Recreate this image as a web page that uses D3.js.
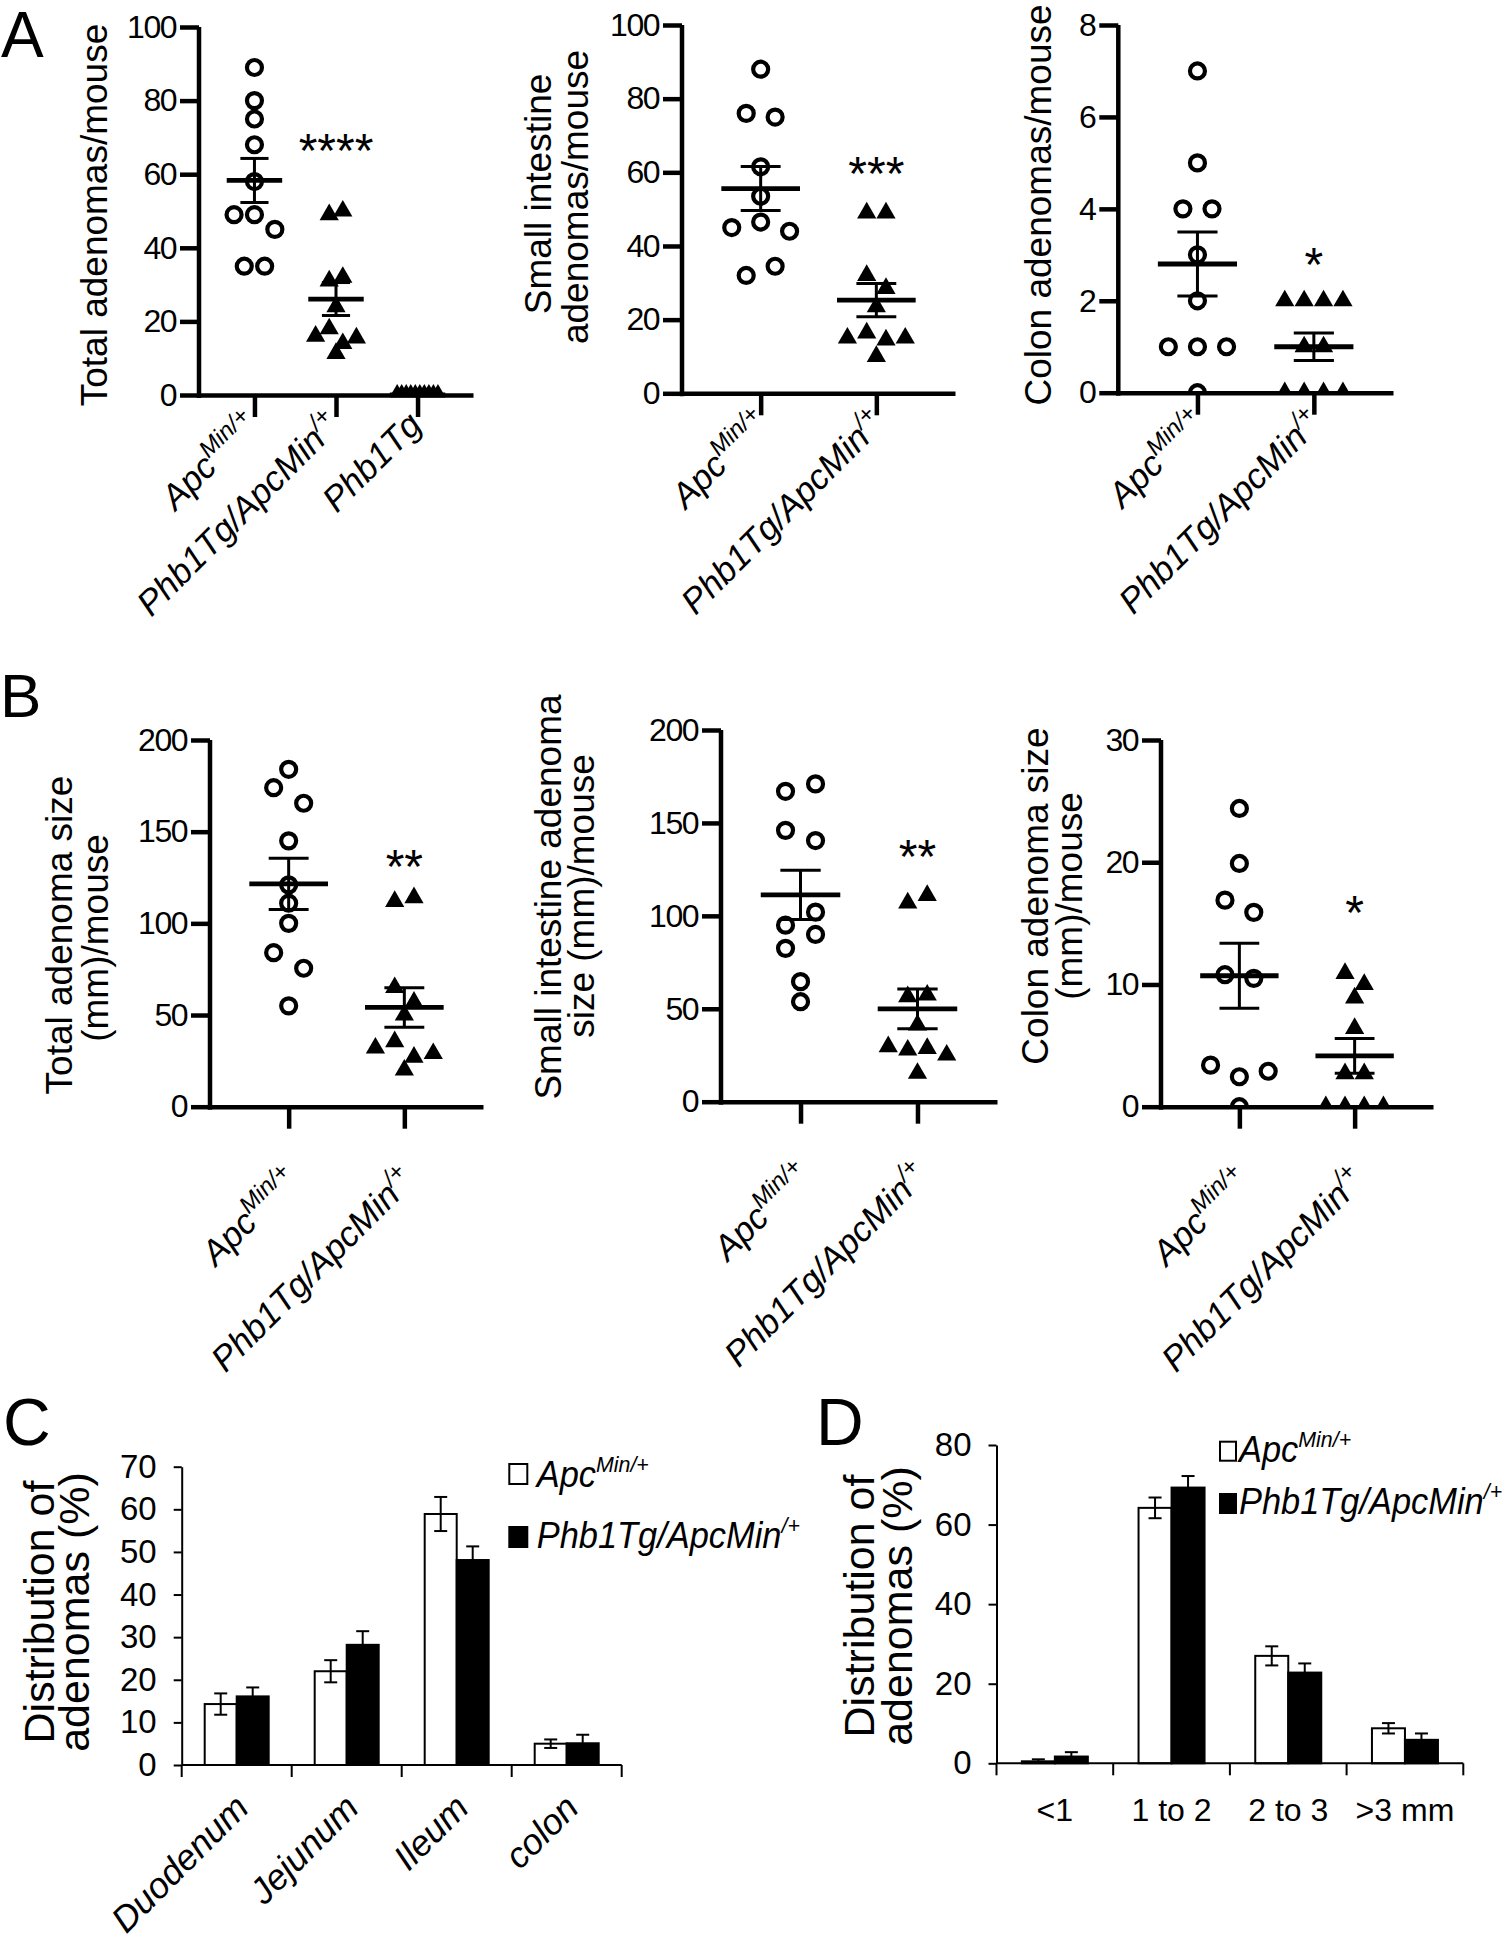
<!DOCTYPE html>
<html><head><meta charset="utf-8">
<script src="https://cdn.jsdelivr.net/npm/d3@7"></script>
<style>
body{margin:0;background:#fff;}
svg text{font-family:"Liberation Sans",Arial,Helvetica,sans-serif;fill:#000;}
</style></head><body>
<svg id="fig" width="1506" height="1950" xmlns="http://www.w3.org/2000/svg"></svg>
<script>
// ---------------- DATA ----------------
// Group labels (base text + superscript)
const groupBase = ["Apc", "Phb1Tg/ApcMin", "Phb1Tg"];
const groupSup  = ["Min/+", "/+", ""];

// Panel A: adenoma counts per mouse
const totalApc    = [89, 80, 75, 68, 58, 49, 49, 45, 35, 35];
const totalTgApc  = [49, 50, 31, 32, 24, 16, 18, 14, 15.5, 11.3];
const totalTg     = [0, 0, 0, 0, 0, 0, 0, 0, 0, 0];
const siApc       = [88, 76, 75, 61.5, 53.5, 45, 46.5, 44, 32, 34.5];
const siTgApc     = [49, 49, 32, 28.5, 23.5, 15, 16.4, 14.5, 15, 10];
const colonApc    = [7, 5, 4, 4, 3, 2, 1, 1, 1, 0];
const colonTgApc  = [2, 2, 2, 2, 1, 1, 0, 0, 0, 0];

// Panel B: adenoma size (mm) per mouse
const sizeTotalApc   = [184, 174, 165.5, 145, 121, 111, 100, 84, 75.5, 55];
const sizeTotalTgApc = [112, 114, 65, 57, 50, 32, 35.5, 27, 29, 20];
const sizeSiApc      = [167, 171, 146, 140.5, 95, 102, 82.5, 90, 64.6, 53.8];
const sizeSiTgApc    = [107, 111, 56.5, 57.4, 41.3, 29.6, 27.8, 28.7, 25.1, 15.3];
const sizeColonApc   = [24.4, 19.9, 16.9, 15.9, 10.8, 10.5, 3.4, 2.45, 2.9, 0];
const sizeColonTgApc = [10.9, 10, 8.9, 6.4, 2.7, 2.7, 0, 0, 0, 0];

// Significance marks
const sigA = ["****", "***", "*"];
const sigB = ["**", "**", "*"];

// Y tick values
const ticksCount100 = [0, 20, 40, 60, 80, 100];
const ticksCount8   = [0, 2, 4, 6, 8];
const ticksSize200  = [0, 50, 100, 150, 200];
const ticksSize30   = [0, 10, 20, 30];
const ticksC        = [0, 10, 20, 30, 40, 50, 60, 70];
const ticksD        = [0, 20, 40, 60, 80];

// Panel C: distribution by region (%)
const regions       = ["Duodenum", "Jejunum", "Ileum", "colon"];
const regionApcMean = [14.3, 22.0, 58.9, 5.0];
const regionApcSem  = [2.5, 2.6, 4.0, 1.0];
const regionTgMean  = [16.1, 28.2, 48.1, 5.1];
const regionTgSem   = [2.1, 3.2, 3.2, 2.0];

// Panel D: distribution by size (%)
const sizeBins   = ["<1", "1 to 2", "2 to 3", ">3 mm"];
const binApcMean = [0.5, 64.2, 27.0, 8.8];
const binApcSem  = [0.5, 2.6, 2.4, 1.3];
const binTgMean  = [1.7, 69.3, 22.8, 5.9];
const binTgSem   = [1.1, 2.9, 2.3, 1.6];

// ---------------- LAYOUT ----------------
const svg = d3.select("#fig");

function rowOffsets(values, y, dNom, maxSpan, thr) {
  const rows = []; let cur = null;
  values.forEach((v, i) => {
    const py = y(v);
    if (cur && Math.abs(py - cur.py0) < thr) cur.items.push(i);
    else { cur = {py0: py, items: [i]}; rows.push(cur); }
  });
  const maxRow = d3.max(rows, r => r.items.length);
  const d = maxRow > 1 ? Math.min(dNom, maxSpan / (maxRow - 1)) : dNom;
  const offs = new Array(values.length).fill(0);
  rows.forEach(r => {
    const k = r.items.length;
    r.items.forEach((idx, j) => offs[idx] = (j - (k - 1) / 2) * d);
  });
  return offs;
}

function addSupLabel(sel, base, sup, supSize, supDy) {
  sel.append("tspan").text(base);
  if (sup) sel.append("tspan").attr("font-size", supSize).attr("dy", supDy).text(sup);
}

const scatterPanels = [
  {axisX:199, yTop:27, y0:395, xEnd:473, yMax:100, ticks:ticksCount100,
   series:[{v:totalApc,mk:"c"},{v:totalTgApc,mk:"t"},{v:totalTg,mk:"t"}],
   title:["Total adenomas/mouse"], titleX:[107], titleY:[215], star:sigA[0], starLevel:62, lblDX:6, lblDY:32},
  {axisX:682, yTop:25, y0:393.3, xEnd:955, yMax:100, ticks:ticksCount100,
   series:[{v:siApc,mk:"c"},{v:siTgApc,mk:"t"}],
   title:["Small intestine","adenomas/mouse"], titleX:[551,588], titleY:[194,197], star:sigA[1], starLevel:55.3, lblDX:10, lblDY:32},
  {axisX:1118.3, yTop:25, y0:392.7, xEnd:1393, yMax:8, ticks:ticksCount8,
   series:[{v:colonApc,mk:"c"},{v:colonTgApc,mk:"t"}],
   title:["Colon adenomas/mouse"], titleX:[1051], titleY:[205], star:sigA[2], starLevel:2.43, lblDX:10, lblDY:32},
  {axisX:210, yTop:740, y0:1106.7, xEnd:483, yMax:200, ticks:ticksSize200,
   series:[{v:sizeTotalApc,mk:"c"},{v:sizeTotalTgApc,mk:"t"}],
   title:["Total adenoma size","(mm)/mouse"], titleX:[71.5,108], titleY:[935,938], star:sigB[0], starLevel:122, lblDX:12, lblDY:76},
  {axisX:721, yTop:730, y0:1101.7, xEnd:997, yMax:200, ticks:ticksSize200,
   series:[{v:sizeSiApc,mk:"c"},{v:sizeSiTgApc,mk:"t"}],
   title:["Small intestine adenoma","size (mm)/mouse"], titleX:[561,594], titleY:[897,896], star:sigB[1], starLevel:123, lblDX:12, lblDY:76},
  {axisX:1161, yTop:740, y0:1106.7, xEnd:1433, yMax:30, ticks:ticksSize30,
   series:[{v:sizeColonApc,mk:"c"},{v:sizeColonTgApc,mk:"t"}],
   title:["Colon adenoma size","(mm)/mouse"], titleX:[1048,1082], titleY:[896,896], star:sigB[2], starLevel:14.5, lblDX:12, lblDY:76}
];

scatterPanels.forEach((cfg, pi) => {
  const g = svg.append("g");
  const y = d3.scaleLinear().domain([0, cfg.yMax]).range([cfg.y0, cfg.yTop]);
  const n = cfg.series.length;
  const x = d3.scalePoint().domain(d3.range(n)).range([cfg.axisX, cfg.xEnd]).padding(0.68);
  const step = x.step();
  const clipId = "clip" + pi;
  svg.append("defs").append("clipPath").attr("id", clipId).append("rect")
    .attr("x", cfg.axisX).attr("y", cfg.yTop - 40)
    .attr("width", cfg.xEnd - cfg.axisX).attr("height", cfg.y0 - cfg.yTop + 40);

  cfg.series.forEach((s, i) => {
    const offs = rowOffsets(s.v, y, s.mk === "c" ? 30 : 20, step * 0.5, 16);
    const pts = g.append("g").attr("clip-path", `url(#${clipId})`);
    if (s.mk === "c") {
      pts.selectAll("circle").data(s.v).join("circle")
        .attr("cx", (d, j) => x(i) + offs[j]).attr("cy", d => y(d)).attr("r", 7.5)
        .attr("fill", "none").attr("stroke", "#000").attr("stroke-width", 4.2);
    } else {
      pts.selectAll("path").data(s.v).join("path")
        .attr("d", d3.symbol(d3.symbolTriangle, 160))
        .attr("transform", (d, j) => `translate(${x(i) + offs[j]},${y(d)})`)
        .attr("fill", "#000");
    }
    const m = d3.mean(s.v);
    const se = (d3.deviation(s.v) || 0) / Math.sqrt(s.v.length);
    const cx = x(i);
    g.append("line").attr("x1", cx - 0.34 * step).attr("x2", cx + 0.34 * step)
      .attr("y1", y(m)).attr("y2", y(m)).attr("stroke", "#000").attr("stroke-width", 4.8);
    if (se > 0) {
      g.append("line").attr("x1", cx).attr("x2", cx).attr("y1", y(m - se)).attr("y2", y(m + se))
        .attr("stroke", "#000").attr("stroke-width", 3);
      [m - se, m + se].forEach(v => g.append("line")
        .attr("x1", cx - 0.1725 * step).attr("x2", cx + 0.1725 * step)
        .attr("y1", y(v)).attr("y2", y(v)).attr("stroke", "#000").attr("stroke-width", 3));
    }
  });

  // axes
  const ya = g.append("g").attr("transform", `translate(${cfg.axisX},0)`)
    .call(d3.axisLeft(y).tickValues(cfg.ticks).tickSize(19).tickSizeOuter(0).tickPadding(4));
  ya.select(".domain").attr("stroke-width", 4.5).attr("d", `M0,${cfg.y0 + 3}V${cfg.yTop}`);
  ya.selectAll(".tick line").attr("stroke-width", 4.5);
  ya.selectAll(".tick text").attr("font-size", 32).attr("letter-spacing", -1.5);
  const xa = g.append("g").attr("transform", `translate(0,${cfg.y0})`)
    .call(d3.axisBottom(x).tickSize(22).tickSizeOuter(0).tickFormat(""));
  xa.select(".domain").attr("stroke-width", 4.5);
  xa.selectAll(".tick line").attr("stroke-width", 4.5);

  // category labels
  d3.range(n).forEach(i => {
    const t = g.append("text").attr("text-anchor", "end").attr("font-size", 35).attr("font-style", "italic")
      .attr("transform", `translate(${x(i) + cfg.lblDX},${cfg.y0 + cfg.lblDY}) rotate(-45)`);
    addSupLabel(t, groupBase[i], groupSup[i], 24, -14);
  });

  // y title
  cfg.title.forEach((line, k) => {
    g.append("text").attr("text-anchor", "middle").attr("font-size", 37)
      .attr("transform", `translate(${cfg.titleX[k]},${cfg.titleY[k]}) rotate(-90)`).text(line);
  });

  // significance
  g.append("text").attr("text-anchor", "middle").attr("font-size", 48)
    .attr("x", x(1)).attr("y", y(cfg.starLevel)).text(cfg.star);
});

// ---------------- BAR PANELS ----------------
const barPanels = [
  {axisX:181.7, yTop:1466.7, y0:1765, xEnd:621.7, yMax:70, ticks:ticksC, cats:regions,
   a:regionApcMean, ae:regionApcSem, b:regionTgMean, be:regionTgSem, bw:32,
   title:["Distribution of","adenomas (%)"], titleX:[54,89], titleY:[1612,1612], titleSize:43,
   rotated:true,
   legend:{boxX:509.3, boxW:18, boxH:20, y1:1464, y2:1527, tx:536.7, t1:1486.7, t2:1548}},
  {axisX:996.5, yTop:1445, y0:1763.3, xEnd:1463.3, yMax:80, ticks:ticksD, cats:sizeBins,
   a:binApcMean, ae:binApcSem, b:binTgMean, be:binTgSem, bw:33,
   title:["Distribution of","adenomas (%)"], titleX:[874,912], titleY:[1606,1606], titleSize:43,
   rotated:false,
   legend:{boxX:1220, boxW:16, boxH:19, y1:1441.7, y2:1494, tx:1239, t1:1461.7, t2:1514.3}}
];

barPanels.forEach(cfg => {
  const g = svg.append("g");
  const y = d3.scaleLinear().domain([0, cfg.yMax]).range([cfg.y0, cfg.yTop]);
  const x = d3.scaleBand().domain(cfg.cats).range([cfg.axisX, cfg.xEnd]).paddingInner(0).paddingOuter(0);
  const bw = cfg.bw;
  const center = c => x(c) + x.bandwidth() / 2;

  [[cfg.a, cfg.ae, "#fff", -1], [cfg.b, cfg.be, "#000", 0]].forEach(([vals, errs, fill, side]) => {
    g.selectAll(null).data(cfg.cats).join("rect")
      .attr("x", c => center(c) + side * bw).attr("width", bw)
      .attr("y", (c, i) => y(vals[i])).attr("height", (c, i) => cfg.y0 - y(vals[i]))
      .attr("fill", fill).attr("stroke", "#000").attr("stroke-width", 2);
    cfg.cats.forEach((c, i) => {
      const cx = center(c) + side * bw + bw / 2;
      const lo = Math.max(0, vals[i] - errs[i]), hi = vals[i] + errs[i];
      g.append("line").attr("x1", cx).attr("x2", cx).attr("y1", y(lo)).attr("y2", y(hi))
        .attr("stroke", "#000").attr("stroke-width", 2);
      g.append("line").attr("x1", cx - 6.5).attr("x2", cx + 6.5).attr("y1", y(hi)).attr("y2", y(hi))
        .attr("stroke", "#000").attr("stroke-width", 2);
      if (fill === "#fff" && vals[i] - errs[i] > 0)
        g.append("line").attr("x1", cx - 6.5).attr("x2", cx + 6.5).attr("y1", y(lo)).attr("y2", y(lo))
          .attr("stroke", "#000").attr("stroke-width", 2);
    });
  });

  const ya = g.append("g").attr("transform", `translate(${cfg.axisX},0)`)
    .call(d3.axisLeft(y).tickValues(cfg.ticks).tickSize(8).tickSizeOuter(0).tickPadding(17));
  ya.select(".domain").attr("stroke-width", 2);
  ya.selectAll(".tick line").attr("stroke-width", 2);
  ya.selectAll(".tick text").attr("font-size", 33);

  g.append("line").attr("x1", cfg.axisX).attr("x2", cfg.xEnd).attr("y1", cfg.y0).attr("y2", cfg.y0)
    .attr("stroke", "#000").attr("stroke-width", 2);
  const bounds = cfg.cats.map(c => x(c)).concat([x.range()[1]]);
  g.selectAll(null).data(bounds).join("line")
    .attr("x1", d => d).attr("x2", d => d).attr("y1", cfg.y0).attr("y2", cfg.y0 + 12)
    .attr("stroke", "#000").attr("stroke-width", 2);

  if (cfg.rotated) {
    cfg.cats.forEach(c => g.append("text").attr("text-anchor", "end").attr("font-size", 36)
      .attr("font-style", "italic")
      .attr("transform", `translate(${center(c) + 14},${cfg.y0 + 45}) rotate(-45)`).text(c));
  } else {
    cfg.cats.forEach(c => g.append("text").attr("text-anchor", "middle").attr("font-size", 32)
      .attr("x", center(c)).attr("y", cfg.y0 + 58).text(c));
  }

  cfg.title.forEach((line, k) => g.append("text").attr("text-anchor", "middle")
    .attr("font-size", cfg.titleSize)
    .attr("transform", `translate(${cfg.titleX[k]},${cfg.titleY[k]}) rotate(-90)`).text(line));

  const L = cfg.legend;
  g.append("rect").attr("x", L.boxX).attr("y", L.y1).attr("width", L.boxW).attr("height", L.boxH)
    .attr("fill", "#fff").attr("stroke", "#000").attr("stroke-width", 2);
  g.append("rect").attr("x", L.boxX).attr("y", L.y2).attr("width", L.boxW).attr("height", L.boxH)
    .attr("fill", "#000").attr("stroke", "#000").attr("stroke-width", 2);
  const t1 = g.append("text").attr("font-size", 37).attr("font-style", "italic")
    .attr("transform", `translate(${L.tx},${L.t1}) scale(0.93,1)`);
  addSupLabel(t1, groupBase[0], groupSup[0], 23, -15);
  const t2 = g.append("text").attr("font-size", 37).attr("font-style", "italic")
    .attr("transform", `translate(${L.tx},${L.t2}) scale(0.93,1)`);
  addSupLabel(t2, groupBase[1], groupSup[1], 23, -15);
});

// Panel letters
[["A", 1, 57, 64], ["B", 0, 717, 62], ["C", 3, 1445, 66], ["D", 816, 1445, 66]].forEach(([s, px, py, fs]) =>
  svg.append("text").attr("x", px).attr("y", py).attr("font-size", fs).text(s));
</script>
</body></html>
